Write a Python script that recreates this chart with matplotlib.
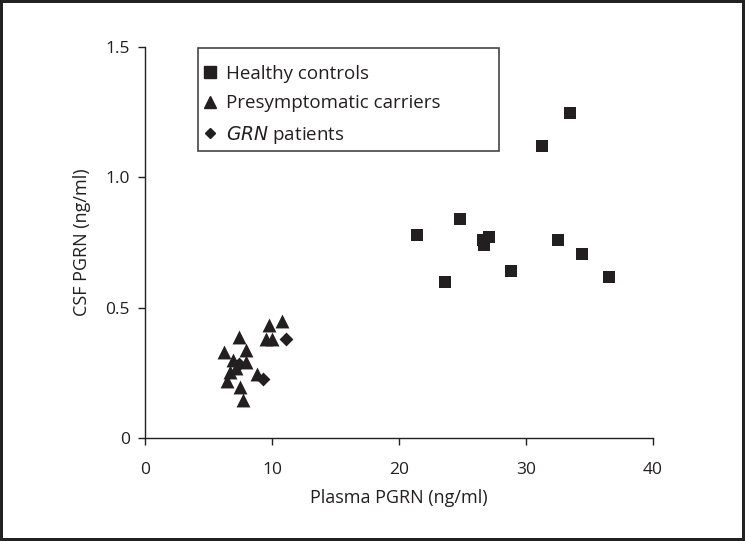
import matplotlib.pyplot as plt
from matplotlib.lines import Line2D
from matplotlib.patches import Rectangle

plt.rcParams['font.family'] = ['Open Sans', 'DejaVu Sans']

# Healthy controls
hc_plasma = [21.4, 23.6, 24.8, 26.6, 26.7, 27.1, 28.8, 31.3, 32.5, 33.5, 34.4, 36.5]
hc_csf = [0.78, 0.60, 0.84, 0.76, 0.74, 0.77, 0.64, 1.12, 0.76, 1.247, 0.706, 0.618]

# Presymptomatic carriers
pc_plasma = [10.8, 9.8, 9.5, 10.0, 7.4, 6.2, 7.95, 7.95, 6.9, 6.7, 6.45, 7.5, 7.75, 7.2, 8.8]
pc_csf = [0.45, 0.433, 0.38, 0.38, 0.386, 0.331, 0.337, 0.293, 0.30, 0.254, 0.219, 0.196, 0.146, 0.27, 0.245]

# GRN patients
grn_plasma = [11.1, 9.3, 7.4]
grn_csf = [0.38, 0.225, 0.285]

fig = plt.figure(figsize=(7.45, 5.41), dpi=100)
fig.patch.set_edgecolor('#222222')
fig.patch.set_linewidth(4)
ax = fig.add_axes([0.1946, 0.1904, 0.6819, 0.7226])

ax.scatter(hc_plasma, hc_csf, marker='s', s=85, color='#231f20', linewidths=0)
ax.scatter(pc_plasma, pc_csf, marker='^', s=100, color='#231f20', linewidths=0)
ax.scatter(grn_plasma, grn_csf, marker='D', s=50, color='#231f20', linewidths=0)

ax.set_xlim(0, 40)
ax.set_ylim(0, 1.5)
ax.set_xticks([0, 10, 20, 30, 40])
ax.set_yticks([0, 0.5, 1.0, 1.5])
ax.set_yticklabels(['0', '0.5', '1.0', '1.5'])
for s in ['top', 'right']:
    ax.spines[s].set_visible(False)
for s in ['left', 'bottom']:
    ax.spines[s].set_color('#231f20')
    ax.spines[s].set_linewidth(1.0)
ax.tick_params(direction='out', length=5, width=1, labelsize=12.5, colors='#231f20', pad=6)
ax.tick_params(axis='x', pad=12)
ax.set_xlabel('Plasma PGRN (ng/ml)', fontsize=13, color='#231f20', labelpad=8)
ax.set_ylabel('CSF PGRN (ng/ml)', fontsize=13, color='#231f20', labelpad=10)

handles = [
    Line2D([], [], marker='s', color='#231f20', ls='none', markersize=8),
    Line2D([], [], marker='^', color='#231f20', ls='none', markersize=8),
    Line2D([], [], marker='D', color='#231f20', ls='none', markersize=5.5),
]
labels = ['Healthy controls', 'Presymptomatic carriers', r'$\it{GRN}$ patients']
leg = ax.legend(handles, labels, loc='upper left', bbox_to_anchor=(198 / 745, 1 - 59 / 541),
                bbox_transform=fig.transFigure, frameon=False, fontsize=13.5,
                handlelength=0.7, handletextpad=0.5, borderpad=0.3,
                labelspacing=0.62, borderaxespad=0)
for t in leg.get_texts():
    t.set_color('#231f20')

# legend box is wider than its text in the original
box = Rectangle((198 / 745, 1 - 151 / 541), 301 / 745, 103 / 541,
                transform=fig.transFigure, fill=False, edgecolor='#444444',
                linewidth=1.2, zorder=5)
fig.patches.append(box)

fig.savefig('out.png', dpi=100)
